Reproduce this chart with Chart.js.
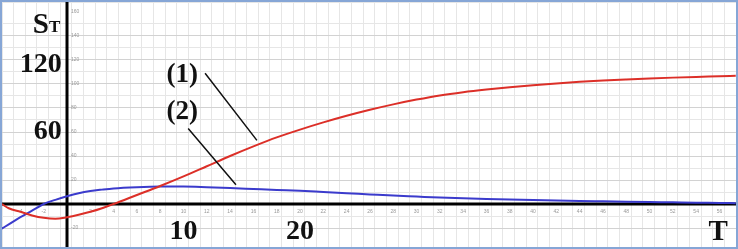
<!DOCTYPE html>
<html>
<head>
<meta charset="utf-8">
<script src="https://cdn.jsdelivr.net/npm/chart.js@4/dist/chart.umd.min.js"></script>
<style>
  html, body { margin: 0; padding: 0; background: #fff; }
  #frame { width: 738px; height: 249px; box-sizing: border-box; border: 2px solid #86a6d6; }
  canvas { display: block; }
</style>
</head>
<body>
<div id="frame"><canvas id="chart" width="734" height="245"></canvas></div>
<script>
// T values and the two curves
const tValues = [-5.6, -5, -4, -3, -2, -1, 0, 1, 2, 3, 4, 6, 8, 10, 12, 14, 16, 18, 20, 22, 24, 26, 28, 30,
  32, 34, 36, 38, 40, 42, 44, 46, 48, 50, 52, 54, 56, 57.4];
const curve1 = [0, -3.5, -6.5, -9.5, -11.5, -12.3, -11, -9, -6.5, -3.5, 0, 7.5, 15, 23, 31.5, 40, 48, 55.5, 62, 68,
  73.5, 78.5, 83, 87, 90.5, 93.2, 95.4, 97.3, 99, 100.5, 101.8, 102.9, 103.8, 104.6, 105.3, 105.9, 106.4, 106.8];
const curve2 = [-20.5, -17, -11, -5.5, 0, 3.5, 6.5, 9, 10.8, 12, 13, 14, 14.5, 14.5, 14, 13.3, 12.5, 11.7, 11, 10,
  9, 8, 7, 6.2, 5.4, 4.8, 4.2, 3.7, 3.3, 3, 2.6, 2.3, 2, 1.7, 1.4, 1.1, 0.9, 0.7];

// small axis numbers
const xTickLabels = [-4, -2, 2, 4, 6, 8, 10, 12, 14, 16, 18, 20, 22, 24, 26, 28, 30, 32, 34, 36, 38, 40,
  42, 44, 46, 48, 50, 52, 54, 56];
const yTickLabels = [-20, 20, 40, 60, 80, 100, 120, 140, 160];

// big labels
const bigYLabels = [60, 120];
const bigXLabels = [10, 20];

const toPoints = (ys) => tValues.map((t, i) => ({ x: t, y: ys[i] }));

const serif = '"Liberation Serif", "DejaVu Serif", serif';

const overlay = {
  id: 'overlay',
  beforeDatasetsDraw(chart) {
    const { ctx, chartArea: a, scales: { x, y } } = chart;
    const x0 = x.getPixelForValue(0);
    const y0 = y.getPixelForValue(0);
    ctx.save();
    ctx.strokeStyle = '#000';
    ctx.lineWidth = 3;
    ctx.beginPath();
    ctx.moveTo(a.left, y0); ctx.lineTo(a.right, y0);
    ctx.moveTo(x0, a.top); ctx.lineTo(x0, a.bottom);
    ctx.stroke();

    // tiny scale numbers along the axes
    ctx.fillStyle = '#999';
    ctx.font = '5px sans-serif';
    ctx.textAlign = 'center';
    ctx.textBaseline = 'top';
    xTickLabels.forEach(v => ctx.fillText(v, x.getPixelForValue(v), y0 + 5));
    ctx.textAlign = 'left';
    ctx.textBaseline = 'middle';
    yTickLabels.forEach(v => ctx.fillText(v, x0 + 4, y.getPixelForValue(v)));
    ctx.restore();
  },
  afterDatasetsDraw(chart) {
    const { ctx, scales: { x, y } } = chart;
    const px = (t) => x.getPixelForValue(t);
    const py = (s) => y.getPixelForValue(s);
    ctx.save();
    ctx.fillStyle = '#111';

    // leader lines to the curves
    ctx.strokeStyle = '#111';
    ctx.lineWidth = 1.5;
    ctx.beginPath();
    ctx.moveTo(px(11.85), py(109)); ctx.lineTo(px(16.3), py(53));
    ctx.moveTo(px(10.4), py(63)); ctx.lineTo(px(14.5), py(16));
    ctx.stroke();

    ctx.font = 'bold 27px ' + serif;
    ctx.textAlign = 'center';
    ctx.textBaseline = 'middle';
    ctx.fillText('(1)', px(9.9), py(107.5));
    ctx.fillText('(2)', px(9.9), py(77));

    ctx.font = 'bold 28px ' + serif;
    ctx.textAlign = 'right';
    bigYLabels.forEach(v => ctx.fillText(v, px(-0.45), py(v) + (v === 120 ? 5 : 0)));
    ctx.textAlign = 'center';
    bigXLabels.forEach(v => ctx.fillText(v, px(v), py(-23)));

    ctx.font = 'bold 29px ' + serif;
    ctx.fillText('T', px(55.9), py(-24));
    ctx.textAlign = 'right';
    ctx.fillText('S', px(-1.55), py(149));
    ctx.font = 'bold 17px ' + serif;
    ctx.textAlign = 'left';
    ctx.fillText('T', px(-1.55), py(147));
    ctx.restore();
  }
};

new Chart(document.getElementById('chart'), {
  type: 'line',
  data: {
    datasets: [
      { label: '(1)', data: toPoints(curve1), borderColor: '#dc2f28', borderWidth: 2, cubicInterpolationMode: 'monotone' },
      { label: '(2)', data: toPoints(curve2), borderColor: '#3b3bcc', borderWidth: 2, cubicInterpolationMode: 'monotone' }
    ]
  },
  options: {
    responsive: false,
    animation: false,
    layout: { padding: 0 },
    elements: { point: { radius: 0 } },
    plugins: { legend: { display: false }, tooltip: { enabled: false } },
    scales: {
      x: {
        type: 'linear', min: -5.58, max: 57.42,
        ticks: { display: false, stepSize: 1 },
        grid: { drawTicks: false, color: (c) => (c.tick.value % 2 === 0 ? '#d2d2d2' : '#e6e6e6') },
        border: { display: false }
      },
      y: {
        type: 'linear', min: -35.8, max: 168.3,
        ticks: { display: false, stepSize: 10 },
        grid: { drawTicks: false, color: (c) => (c.tick.value % 20 === 0 ? '#d2d2d2' : '#e6e6e6') },
        border: { display: false }
      }
    }
  },
  plugins: [overlay]
});
</script>
</body>
</html>
